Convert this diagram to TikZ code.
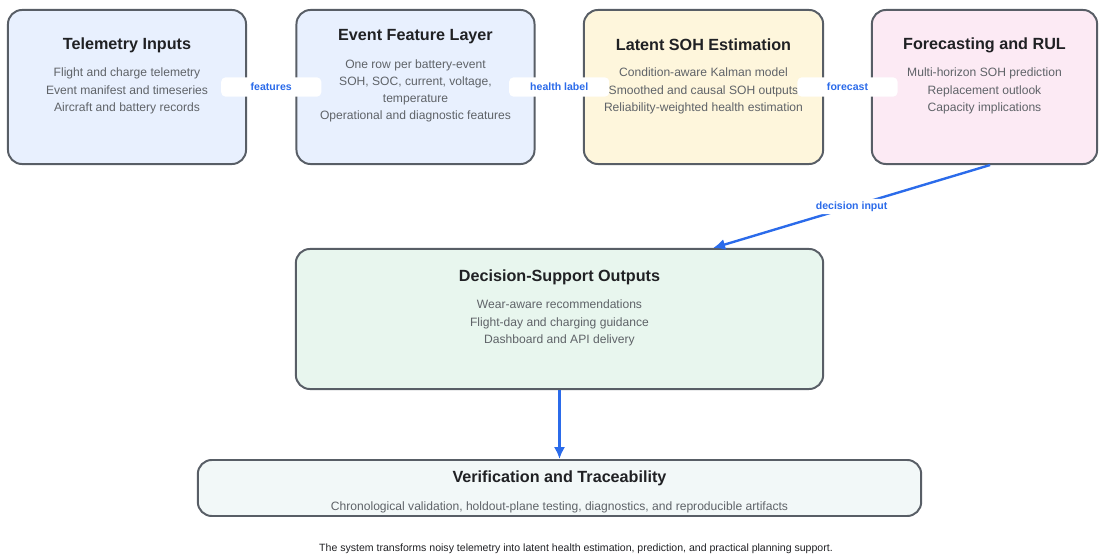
\documentclass[tikz,border=0pt]{standalone}
\usepackage{fontspec}
\setmainfont{Liberation Sans}
\usetikzlibrary{arrows.meta}

\definecolor{boxline}{HTML}{585E66}
\definecolor{titlegray}{HTML}{202124}
\definecolor{bodygray}{HTML}{5F6368}
\definecolor{flowblue}{HTML}{2B6BEA}
\definecolor{inputfill}{HTML}{E8F0FE}
\definecolor{estfill}{HTML}{FEF6DC}
\definecolor{forefill}{HTML}{FCEAF4}
\definecolor{decfill}{HTML}{E8F6EE}
\definecolor{verfill}{HTML}{F2F8F8}

\tikzset{
  box/.style={draw=boxline, line width=1.4pt, rounded corners=10pt, inner sep=0pt},
  boxtitle/.style={font=\fontsize{11.5}{13}\selectfont\bfseries, text=titlegray, inner sep=0pt},
  boxtext/.style={font=\fontsize{8.6}{12.2}\selectfont, text=bodygray, align=center, inner sep=0pt},
  flow/.style={draw=flowblue, line width=1.7pt, -{Latex[length=8.5pt,width=8pt]}},
  flowlabel/.style={fill=white, rounded corners=3pt, inner sep=2pt,
    font=\fontsize{7.5}{8}\selectfont\bfseries, text=flowblue}
}

\begin{document}
\begin{tikzpicture}[x=0.025cm, y=-0.025cm]
  \useasboundingbox (0,0) rectangle (1100,558);

  \node[box, fill=inputfill, minimum width=5.95cm, minimum height=3.85cm] (tel) at (127,87) {};
  \node[box, fill=inputfill, minimum width=5.95cm, minimum height=3.85cm] (evt) at (415.5,87) {};
  \node[box, fill=estfill, minimum width=5.98cm, minimum height=3.85cm] (est) at (703.5,87) {};
  \node[box, fill=forefill, minimum width=5.63cm, minimum height=3.85cm] (fc) at (984.5,87) {};
  \node[box, fill=decfill, minimum width=13.18cm, minimum height=3.5cm] (dec) at (559.5,319) {};
  \node[box, fill=verfill, minimum width=18.08cm, minimum height=1.4cm] (ver) at (559.5,488) {};

  \node[boxtitle] (telT) at (127,45) {Telemetry Inputs};
  \node[boxtext] (telB) at (127,91) {Flight and charge telemetry\\Event manifest and timeseries\\Aircraft and battery records};

  \node[boxtitle] (evtT) at (415.5,37) {Event Feature Layer};
  \node[boxtext] (evtB) at (415.5,91) {One row per battery-event\\SOH, SOC, current, voltage,\\temperature\\Operational and diagnostic features};

  \node[boxtitle] (estT) at (703.5,45) {Latent SOH Estimation};
  \node[boxtext] (estB) at (703.5,91) {Condition-aware Kalman model\\Smoothed and causal SOH outputs\\Reliability-weighted health estimation};

  \node[boxtitle] (fcT) at (984.5,45) {Forecasting and RUL};
  \node[boxtext] (fcB) at (984.5,91) {Multi-horizon SOH prediction\\Replacement outlook\\Capacity implications};

  \node[boxtitle] (decT) at (559.5,277) {Decision-Support Outputs};
  \node[boxtext] (decB) at (559.5,323) {Wear-aware recommendations\\Flight-day and charging guidance\\Dashboard and API delivery};

  \node[boxtitle] (verT) at (559.5,478) {Verification and Traceability};
  \node[boxtext] (verB) at (559.5,507) {Chronological validation, holdout-plane testing, diagnostics, and reproducible artifacts};

  \draw[flow] (tel) -- (evt) node[flowlabel, midway, minimum width=2.5cm, minimum height=0.48cm] (lblFeat) {features};
  \draw[flow] (evt) -- (est) node[flowlabel, midway, minimum width=2.5cm, minimum height=0.48cm] (lblHealth) {health label};
  \draw[flow] (est) -- (fc) node[flowlabel, midway, minimum width=2.5cm, minimum height=0.48cm] (lblFc) {forecast};
  \draw[flow] ([xshift=0.14cm]fc.south) -- ([xshift=3.84cm]dec.north) node[flowlabel, pos=0.5] (lblDec) {decision input};
  \draw[flow] (dec) -- (ver);

  \node[font=\fontsize{7.5}{8}\selectfont, text=titlegray] (caption) at (576,549) {The system transforms noisy telemetry into latent health estimation, prediction, and practical planning support.};
\end{tikzpicture}
\end{document}
